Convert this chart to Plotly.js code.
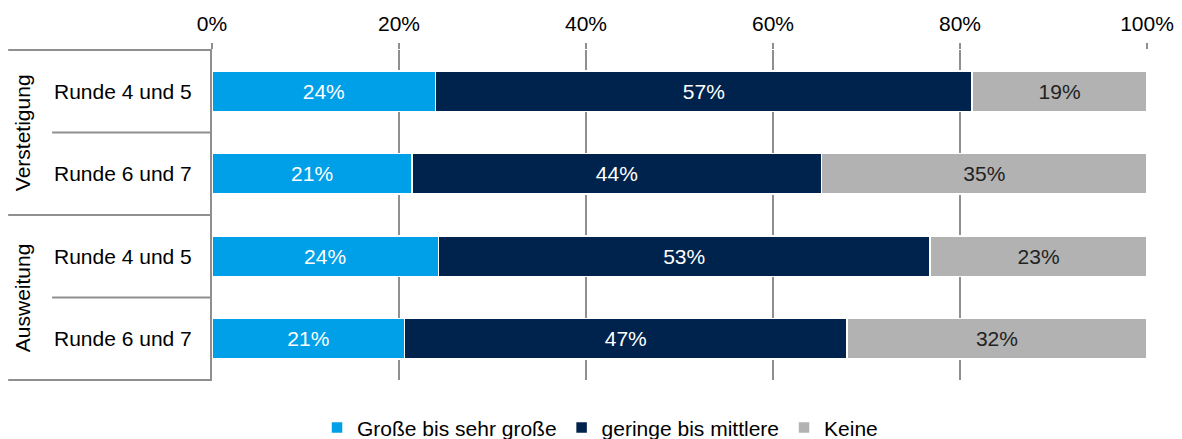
<!DOCTYPE html>
<html>
<head>
<meta charset="utf-8">
<script src="https://cdn.plot.ly/plotly-3.0.1.min.js"></script>
<style>html,body{margin:0;padding:0;background:#fff}#chart{width:1182px;height:439px}</style>
</head>
<body>
<div id="chart"></div>
<script>
var categoryKeys = ['V45', 'V67', 'A45', 'A67'];
var categoryLabels = ['Runde 4 und 5', 'Runde 6 und 7', 'Runde 4 und 5', 'Runde 6 und 7'];
var groupLabels = ['Verstetigung', 'Ausweitung'];
var seriesNames = ['Große bis sehr große', 'geringe bis mittlere', 'Keine'];
var grosse = [23.9, 21.4, 24.2, 20.6];
var geringe = [57.4, 43.8, 52.6, 47.3];
var keine = [18.7, 34.8, 23.2, 32.1];
var tickVals = [0, 20, 40, 60, 80, 100];
var tickText = ['0%', '20%', '40%', '60%', '80%', '100%'];

var colors = ['#00A0E9', '#00234D', '#B2B2B2'];
var textColors = ['#ffffff', '#ffffff', '#222222'];
var seriesVals = [grosse, geringe, keine];
var font = 'Liberation Sans, Arial, sans-serif';
var fs = 21;

var traces = seriesVals.map(function (vals, i) {
  return {
    type: 'bar', orientation: 'h', name: seriesNames[i],
    y: categoryKeys, x: vals,
    text: vals.map(function (v) { return Math.round(v) + '%'; }),
    textposition: 'inside', insidetextanchor: 'middle',
    textfont: {family: font, size: fs, color: textColors[i]},
    marker: {color: colors[i], line: {color: '#ffffff', width: 1.5}},
    width: 0.49, hoverinfo: 'none'
  };
});

var lineColor = '#8f8f8f';
var shapes = [];
var hl = [[1, -0.218], [0.75, -0.171], [0.5, -0.218], [0.25, -0.171], [0, -0.218]];
hl.forEach(function (h) {
  shapes.push({type: 'line', xref: 'paper', yref: 'paper', x0: h[1], x1: 0, y0: h[0], y1: h[0],
    line: {color: lineColor, width: 2}});
});

var annotations = [
  {text: groupLabels[0], xref: 'paper', yref: 'paper', x: -0.2025, y: 0.75, textangle: -90,
   xanchor: 'center', yanchor: 'middle',
   showarrow: false, font: {family: font, size: fs, color: '#000'}},
  {text: groupLabels[1], xref: 'paper', yref: 'paper', x: -0.2025, y: 0.25, textangle: -90,
   xanchor: 'center', yanchor: 'middle',
   showarrow: false, font: {family: font, size: fs, color: '#000'}}
];

var layout = {
  width: 1182, height: 439,
  margin: {l: 212, r: 35, t: 50, b: 59, pad: 0, autoexpand: false},
  barmode: 'stack',
  paper_bgcolor: '#fff', plot_bgcolor: '#fff',
  font: {family: font, size: fs, color: '#000'},
  xaxis: {
    side: 'top', range: [0, 100], tickvals: tickVals, ticktext: tickText,
    showgrid: true, gridcolor: lineColor, gridwidth: 1.5,
    ticks: 'outside', ticklen: 6, tickcolor: lineColor, tickwidth: 1.5,
    zeroline: false, showline: false, fixedrange: true, ticklabelstandoff: 4,
    tickfont: {family: font, size: fs, color: '#000'}
  },
  yaxis: {
    type: 'category', categoryorder: 'array', categoryarray: categoryKeys,
    autorange: 'reversed', tickvals: categoryKeys, ticktext: categoryLabels,
    showline: true, linecolor: lineColor, linewidth: 2, ticks: '',
    showgrid: false, zeroline: false, ticklabelstandoff: 14,
    tickfont: {family: font, size: fs, color: '#000'}
  },
  showlegend: true,
  legend: {orientation: 'h', x: 0.415, xanchor: 'center', y: -0.145, yanchor: 'middle',
    font: {family: font, size: fs, color: '#000'}, itemwidth: 30, traceorder: 'normal'},
  shapes: shapes,
  annotations: annotations,
  bargap: 0.5
};

Plotly.newPlot('chart', traces, layout, {displayModeBar: false, staticPlot: true});
</script>
</body>
</html>
